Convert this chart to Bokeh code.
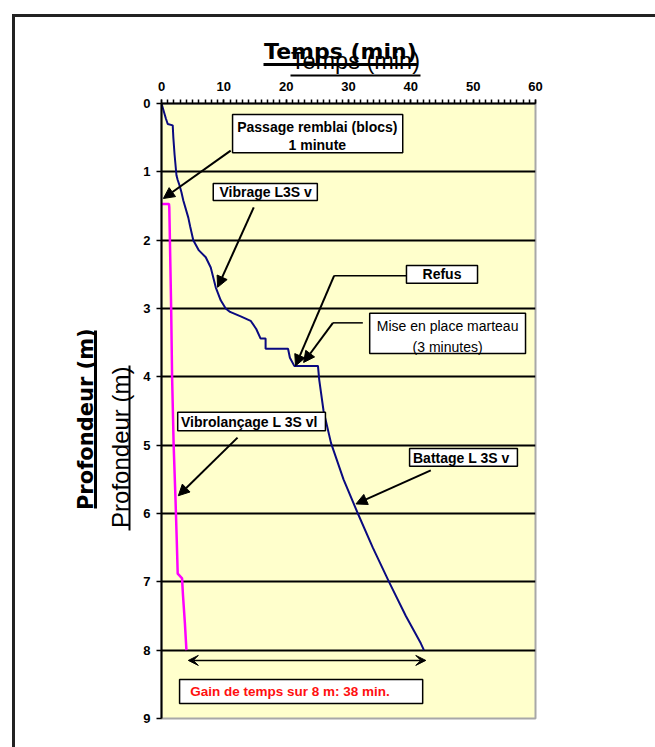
from bokeh.plotting import figure
from bokeh.models import (Range1d, SingleIntervalTicker, FixedTicker, Label, Arrow,
                          NormalHead, VeeHead, LinearAxis, InlineStyleSheet)
from bokeh.embed import file_html
from bokeh.resources import INLINE

# ---------------- data ----------------
# Vibrage L3S v, then hammer set-up, then Battage L 3S v (blue)
blue_t = [0, 0.7, 1.0, 1.8, 1.9, 2.1, 2.4, 2.6, 2.9, 3.2, 3.5, 4.3, 4.6, 5.1, 6.0, 7.1,
          7.9, 8.7, 9.5, 10.3, 11.0, 12.8, 14.3, 15.2, 15.9, 16.7, 16.7, 20.3, 20.6,
          21.3, 25.1, 25.3, 26.0, 27.2, 29.2, 31.5, 33.9, 36.5, 39.2, 41.6, 42.1]
blue_d = [0, 0.22, 0.30, 0.32, 0.50, 0.75, 1.05, 1.12, 1.20, 1.30, 1.42, 1.67, 1.80,
          2.0, 2.15, 2.25, 2.4, 2.69, 2.88, 3.0, 3.05, 3.12, 3.18, 3.3, 3.44, 3.44,
          3.59, 3.59, 3.72, 3.84, 3.84, 4.04, 4.5, 4.97, 5.5, 6.0, 6.5, 7.0, 7.5, 7.9,
          8.0]
# Vibrolançage L 3S vl (magenta)
pink_t = [0, 1.2, 1.25, 1.35, 1.55, 1.7, 1.95, 2.25, 2.45, 2.6, 3.3, 3.45, 3.75, 4.0]
pink_d = [1.47, 1.47, 1.52, 2.0, 3.0, 4.0, 5.0, 5.8, 6.4, 6.88, 6.95, 7.2, 7.6, 8.0]

x_ticks = [0, 10, 20, 30, 40, 50, 60]
y_ticks = [0, 1, 2, 3, 4, 5, 6, 7, 8, 9]

x_title = "Temps (min)"
y_title = "Profondeur (m)"

# annotation boxes (data units)
box_left = [11.4, 8.3, 39.3, 33.4, 2.6, 39.8, 2.9]
box_right = [38.7, 25.0, 50.7, 58.4, 26.3, 57.1, 41.9]
box_top = [0.16, 1.17, 2.37, 3.07, 4.52, 5.05, 8.43]
box_bottom = [0.72, 1.42, 2.63, 3.66, 4.79, 5.31, 8.78]

BLUE = "#0A0A80"
PINK = "#FF00FF"
FONT = "Liberation Sans"

p = figure(width=655, height=747, x_range=Range1d(0, 60), y_range=Range1d(9, 0),
           x_axis_location="above", output_backend="svg", toolbar_location=None,
           min_border_left=161, min_border_right=120, min_border_top=103,
           min_border_bottom=29, background_fill_color="#FFFFCC",
           border_fill_color="white", title=None)
p.outline_line_color = "#A8A8A8"
p.outline_line_width = 2

# outer page frame (left and top rules only), drawn by CSS over the canvas
p.css_classes = ["pageframe"]
p.stylesheets = [InlineStyleSheet(css=(
    ":host(.pageframe)::before { content: ''; position: absolute; left: 12px; "
    "top: 14px; bottom: 0; width: 2.5px; background: #222; border: none !important; "
    "box-shadow: none; outline: none; pointer-events: none; z-index: 10; }"
    ":host(.pageframe)::after { content: ''; position: absolute; left: 12px; "
    "top: 14px; right: 0; height: 2.5px; background: #222; border: none !important; "
    "box-shadow: none; outline: none; pointer-events: none; z-index: 10; }"))]

xa = p.xaxis[0]
xa.ticker = SingleIntervalTicker(interval=10, num_minor_ticks=10)
xa.major_tick_out = 4
xa.major_tick_in = 0
xa.minor_tick_out = 4
xa.minor_tick_in = 0
xa.major_tick_line_width = 1.5
xa.minor_tick_line_width = 1.5
xa.major_tick_line_color = "black"
xa.minor_tick_line_color = "black"
xa.axis_line_width = 2
xa.axis_line_color = "black"
xa.major_label_standoff = 9
xa.major_label_text_font = FONT
xa.major_label_text_font_style = "bold"
xa.major_label_text_font_size = "13px"
xa.major_label_text_color = "black"

ya = p.yaxis[0]
ya.ticker = SingleIntervalTicker(interval=1, num_minor_ticks=0)
ya.major_tick_out = 5
ya.major_tick_in = 0
ya.minor_tick_out = 0
ya.minor_tick_in = 0
ya.major_tick_line_width = 1.5
ya.major_tick_line_color = "black"
ya.axis_line_width = 2
ya.axis_line_color = "black"
ya.major_label_standoff = 6
ya.major_label_text_font = FONT
ya.major_label_text_font_style = "bold"
ya.major_label_text_font_size = "13px"
ya.major_label_text_color = "black"

p.xgrid.visible = False
p.ygrid.ticker = FixedTicker(ticks=y_ticks[1:-1])
p.ygrid.grid_line_color = "black"
p.ygrid.grid_line_width = 2

# series
p.line(pink_t, pink_d, line_color=PINK, line_width=2.5)
p.line(blue_t, blue_d, line_color=BLUE, line_width=2)

# boxes
p.quad(left=box_left, right=box_right, top=box_top, bottom=box_bottom,
       fill_color="white", line_color="black", line_width=1.5)


def lab(x, y, text, size="14px", color="black", align="center", style="bold",
        baseline="middle", font=FONT, angle=0, place="center", **kw):
    p.add_layout(Label(x=x, y=y, text=text, text_font=font, text_font_size=size,
                       text_font_style=style, text_color=color, text_align=align,
                       text_baseline=baseline, angle=angle, **kw), place)


lab(25.0, 0.35, "Passage remblai (blocs)")
lab(25.0, 0.60, "1 minute")
lab(16.7, 1.30, "Vibrage L3S v")
lab(45.0, 2.50, "Refus")
lab(45.9, 3.26, "Mise en place marteau", style="normal")
lab(45.9, 3.57, "(3 minutes)", style="normal")
lab(14.4, 4.66, "Vibrolançage  L 3S vl")
lab(48.4, 5.19, "Battage  L 3S v")
lab(4.6, 8.61, "Gain de temps sur 8 m: 38 min.", size="13.5px", color="#FF1010",
    align="left")


def arrow(x0, y0, x1, y1, head=True, width=2):
    end = NormalHead(size=11, fill_color="black", line_color="black") if head else None
    p.add_layout(Arrow(end=end, x_start=x0, y_start=y0, x_end=x1, y_end=y1,
                       line_color="black", line_width=width))


arrow(11.1, 0.69, 0.3, 1.39)
arrow(14.8, 1.52, 9.0, 2.69)
arrow(39.3, 2.52, 27.7, 2.52, head=False, width=1.5)
arrow(27.7, 2.52, 21.5, 3.84)
arrow(32.3, 3.21, 27.5, 3.21, head=False, width=1.5)
arrow(27.5, 3.21, 22.8, 3.79)
arrow(12.2, 4.89, 2.7, 5.74)
arrow(43.2, 5.37, 31.2, 5.86)
p.add_layout(Arrow(start=VeeHead(size=10, fill_color="black", line_color="black"),
                   end=VeeHead(size=10, fill_color="black", line_color="black"),
                   x_start=4.3, y_start=8.15, x_end=42.4, y_end=8.15,
                   line_color="black", line_width=1.5))


# underlines: extra axes stacked outside the main axes; one hidden tick gives each
# axis its depth (gap), and the bounded axis rule is the underline
def line_axis(place, bounds, gap, lw, color="black"):
    tick = 30 if place == "above" else 5
    ax = LinearAxis(ticker=FixedTicker(ticks=[tick]), major_tick_out=gap,
                    major_tick_in=0, minor_tick_out=0, minor_tick_in=0,
                    major_tick_line_color=None, major_label_standoff=0,
                    major_label_text_font_size="0px",
                    major_label_overrides={tick: ""},
                    axis_line_width=lw, axis_line_color=color)
    if bounds is not None:
        ax.bounds = bounds
    p.add_layout(ax, place)


line_axis("above", None, 3, 1, None)            # spacer
line_axis("above", (20.7, 41.55), 11, 2)        # regular title underline
line_axis("above", (16.4, 41.1), 4, 3)          # bold title underline
line_axis("left", None, 11, 1, None)            # spacer
line_axis("left", (3.83, 6.25), 34, 2)          # regular title underline
line_axis("left", (3.32, 5.93), 4, 3)           # bold title underline

# axis titles (double)
lab(31.1, -0.615, x_title, size="23.5px", style="normal", place="above")
lab(28.7, -0.761, x_title, size="22px", font="DejaVu Sans", place="above")
lab(-6.58, 5.03, y_title, size="24px", style="normal", angle=1.5708, place="left")
lab(-12.19, 4.62, y_title, size="21px", font="DejaVu Sans", angle=1.5708, place="left")

open("out.html", "w").write(file_html(p, INLINE))
